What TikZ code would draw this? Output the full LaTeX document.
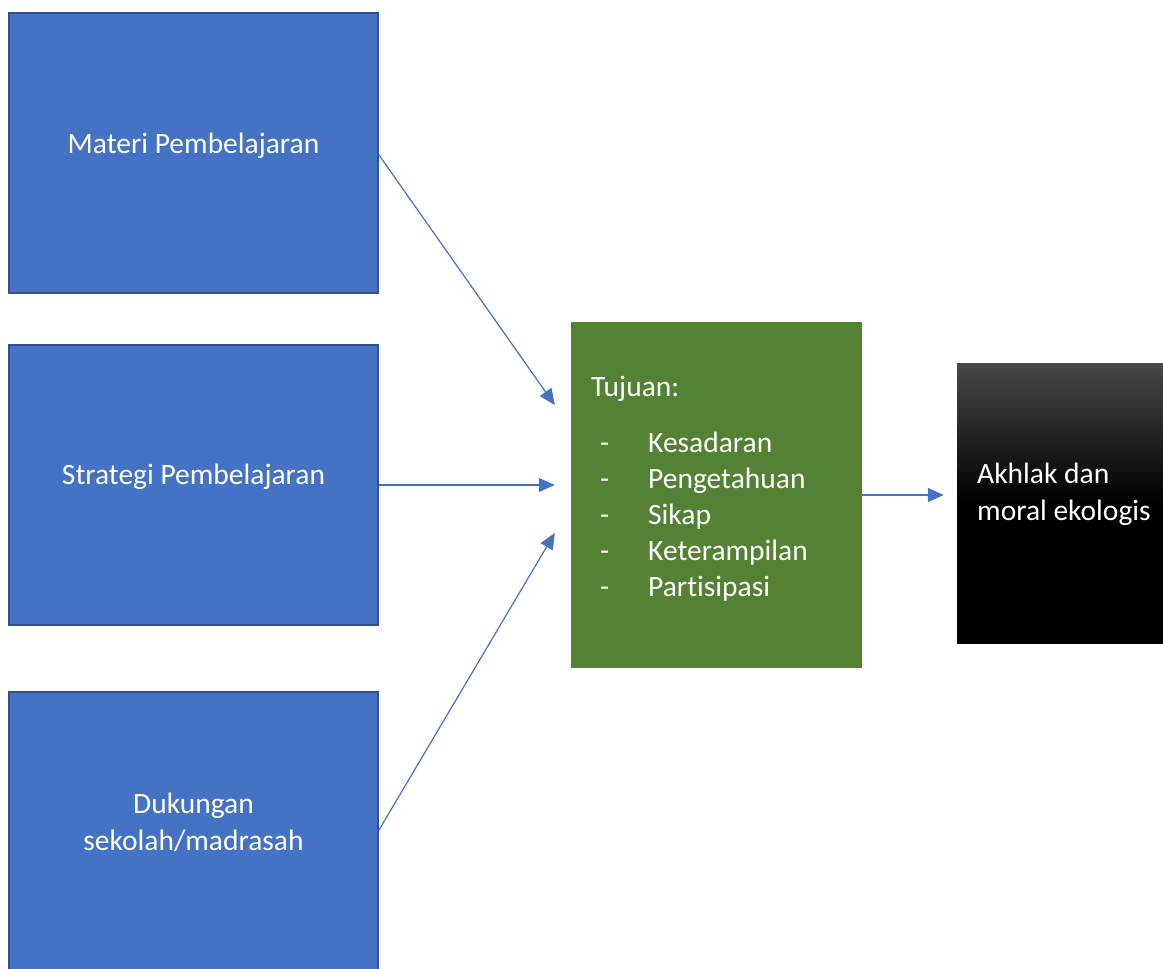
\documentclass[tikz,border=0pt]{standalone}
\usepackage{fontspec}
\setmainfont[Ligatures=NoCommon]{Carlito}
\usepackage{tikz}
\usetikzlibrary{positioning}
\usetikzlibrary{calc}
\usetikzlibrary{arrows.meta}

\definecolor{boxblue}{HTML}{4472C4}
\definecolor{edgeblue}{HTML}{2F528F}
\definecolor{goalgreen}{HTML}{548235}
\definecolor{topgray}{RGB}{72,72,72}

\newcommand{\goalitem}[1]{\hspace*{9pt}\makebox[48pt][l]{-}#1}

\tikzset{
    inbox/.style={draw=edgeblue, line width=2pt, fill=boxblue, rectangle, minimum width=369pt, minimum height=280pt},
    whitetext/.style={text=white, font=\fontsize{29.5}{37}\selectfont, inner sep=0pt},
    flow/.style={draw=boxblue, line width=1.2pt, -{Triangle[length=16pt, width=14pt]}},
}

\begin{document}
\begin{tikzpicture} [x=1pt, y=-1pt]
    % Three input boxes leading to the goals box, then to the result
    \useasboundingbox (0,0) rectangle (1163,969);

    \node (materi) [inbox] at (193.5, 153) {};
    \node (strategi) [inbox] at (193.5, 485) {};
    \node (dukungan) [inbox] at (193.5, 832) {};

    \node (materiText) [whitetext] at (193.5, 146) {Materi Pembelajaran};
    \node (strategiText) [whitetext] at (193.5, 477) {Strategi Pembelajaran};
    \node (dukunganText) [whitetext, align=center] at (193.5, 822) {Dukungan\\sekolah/madrasah};

    \node (tujuan) [rectangle, fill=goalgreen, minimum width=291pt, minimum height=346pt] at (716.5, 495) {};
    \node (tujuanText) [whitetext, align=left, anchor=north west, font=\fontsize{29.5}{36}\selectfont] at (591, 376)
        {Tujuan:\\[20pt]
         \goalitem{Kesadaran}\\
         \goalitem{Pengetahuan}\\
         \goalitem{Sikap}\\
         \goalitem{Keterampilan}\\
         \goalitem{Partisipasi}};

    \node (akhlak) [rectangle, top color=topgray, bottom color=black, middle color=black, minimum width=220pt, minimum height=280pt] at (1067, 503) {};
    \node (akhlakText) [whitetext, align=left, anchor=west] at (977, 494) {Akhlak dan\\moral ekologis};

    \draw[flow] ($(materi.east)+(0,2)$) -- ($(tujuan.west)+(-16,-90)$);
    \draw[flow] (strategi.east) -- ($(tujuan.west)+(-16,-10)$);
    \draw[flow] ($(dukungan.east)+(0,-2)$) -- ($(tujuan.west)+(-16,38)$);
    \draw[flow] (tujuan.east) -- ($(akhlak.west)+(-13,-8)$);

\end{tikzpicture}
\end{document}
